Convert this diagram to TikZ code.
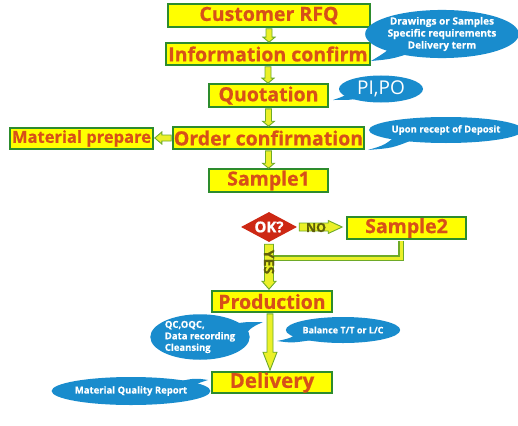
\documentclass[tikz,border=0pt]{standalone}
\usepackage{fontspec}
\setmainfont{Open Sans}[BoldFeatures={FakeBold=0.6}]
\usetikzlibrary{shapes.geometric,calc}
\definecolor{boxfill}{RGB}{255,255,0}
\definecolor{boxline}{RGB}{45,140,45}
\definecolor{txt}{RGB}{215,80,25}
\definecolor{bubcol}{RGB}{25,140,205}
\definecolor{arrfill}{RGB}{235,240,40}
\definecolor{arrline}{RGB}{110,170,40}
\definecolor{okred}{RGB}{205,40,20}
\definecolor{olivetxt}{RGB}{95,95,10}
% block arrows: #1 start, #2 target, #3 shaft half width, #4 head half width, #5 head length
\newcommand\blkdown[5]{\path[blk] let \p1=#1, \p2=#2 in
  (\x1-#3pt,\y1) -- (\x1-#3pt,\y2+#5pt) -- (\x1-#4pt,\y2+#5pt) -- (\x1,\y2) --
  (\x1+#4pt,\y2+#5pt) -- (\x1+#3pt,\y2+#5pt) -- (\x1+#3pt,\y1) -- cycle;}
\newcommand\blkleft[5]{\path[blk] let \p1=#1, \p2=#2 in
  (\x1,\y1-#3pt) -- (\x2+#5pt,\y1-#3pt) -- (\x2+#5pt,\y1-#4pt) -- (\x2,\y1) --
  (\x2+#5pt,\y1+#4pt) -- (\x2+#5pt,\y1+#3pt) -- (\x1,\y1+#3pt) -- cycle;}
\newcommand\blkright[5]{\path[blk] let \p1=#1, \p2=#2 in
  (\x1,\y1-#3pt) -- (\x2-#5pt,\y1-#3pt) -- (\x2-#5pt,\y1-#4pt) -- (\x2,\y1) --
  (\x2-#5pt,\y1+#4pt) -- (\x2-#5pt,\y1+#3pt) -- (\x1,\y1+#3pt) -- cycle;}
\begin{document}
\begin{tikzpicture}[x=1pt,y=-1pt,
  stepbox/.style={draw=boxline, line width=1.6pt, fill=boxfill, inner sep=0pt, text=txt,
    font=\fontsize{19.5}{20}\selectfont\bfseries},
  bubble/.style={ellipse, fill=bubcol, inner sep=0pt, text=white,
    font=\fontsize{9.5}{11.5}\selectfont\bfseries, align=center},
  tail/.style={fill=bubcol},
  blk/.style={draw=arrline, fill=arrfill, line width=0.9pt, line join=miter}]
\fill[white] (0,0) rectangle (518,425);
\useasboundingbox (0,0) rectangle (518,425);

% main boxes
\node[stepbox, minimum width=202, minimum height=23] (rfq)   at (269,15.5)  {Customer RFQ};
\node[stepbox, minimum width=204, minimum height=22] (info)  at (268,54)    {Information confirm};
\node[stepbox, minimum width=119, minimum height=23] (quot)  at (268.5,95.5) {Quotation};
\node[stepbox, minimum width=191, minimum height=22] (order) at (268.5,138) {Order confirmation};
\node[stepbox, minimum width=143, minimum height=21, font=\fontsize{16.5}{17}\selectfont\bfseries] (mat) at (81.5,138.5) {Material prepare};
\node[stepbox, minimum width=119, minimum height=23] (s1)    at (268.5,180.5) {Sample1};
\node[diamond, aspect=1.87, fill=okred, minimum width=56, minimum height=30, inner sep=0pt,
      text=white, font=\fontsize{15}{15}\selectfont\bfseries] (ok) at (269,227) {OK?};
\node[stepbox, minimum width=119, minimum height=22] (s2)    at (406.5,228) {Sample2};
\node[stepbox, minimum width=120, minimum height=21] (prod)  at (272,301.5) {Production};
\node[stepbox, minimum width=120, minimum height=21, font=\fontsize{20.5}{21}\selectfont\bfseries] (deliv) at (272,382.5) {Delivery};

% arrows between boxes
\blkdown{($(rfq.south)+(0,1)$)}{(info.north)}{3}{6}{5}
\blkdown{($(info.south)+(0,1)$)}{(quot.north)}{3}{6}{5}
\blkdown{($(quot.south)+(0,1)$)}{(order.north)}{3}{6}{5}
\blkdown{($(order.south)+(0,1)$)}{(s1.north)}{3}{6}{5}
\blkleft{($(order.west)+(-1,0)$)}{($(mat.east)+(1,0)$)}{3}{6}{7}
\blkright{($(ok.east)+(2,0)$)}{($(s2.west)+(-4,0)$)}{4}{6.5}{14}
\node[font=\fontsize{12.5}{12}\selectfont\bfseries, text=olivetxt] (no) at (316,227.5) {NO};

% return line from Sample2
\coordinate (join) at (272,258);
\draw[line width=5.5pt, draw=arrline, line join=miter] ($(s2.south)+(-5.5,1)$) |- (join);
\draw[line width=3pt, draw=arrfill, line join=miter] ($(s2.south)+(-5.5,1)$) |- (join);

\blkdown{($(ok.south)+(0,2)$)}{($(prod.north)+(0,-1)$)}{4.5}{7}{8}
\node[rotate=-90, font=\fontsize{14}{14}\selectfont\bfseries, text=olivetxt] (yes) at (269,262) {YES};

\blkdown{($(prod.south)+(-2,1)$)}{($(deliv.north)+(-2,-1)$)}{3}{7}{18}

% callout bubble tails (drawn first, under the bubbles)
\coordinate (t1) at (371,61);
\fill[tail] (396,42) .. controls (386,52) .. (t1) .. controls (392,59) .. (414,52) -- cycle;
\coordinate (t2) at (333,100);
\fill[tail] (352,88) .. controls (345,96) .. (t2) .. controls (350,100) .. (362,98) -- cycle;
\coordinate (t3) at (368,150);
\fill[tail] (398,134) .. controls (385,145) .. (t3) .. controls (392,148) .. (410,141) -- cycle;
\coordinate (t4) at (263,322);
\fill[tail] (232,324) .. controls (245,322) .. (t4) .. controls (250,328) .. (240,342) -- cycle;
\coordinate (t5) at (277,341);
\fill[tail] (302,328) .. controls (292,338) .. (t5) .. controls (292,343) .. (312,340) -- cycle;
\coordinate (t6) at (208,380);
\fill[tail] (176,382) .. controls (195,378) .. (t6) .. controls (195,384) .. (186,396) -- cycle;

% callout bubbles
\node[bubble, minimum width=130, minimum height=44, font=\fontsize{10}{12}\selectfont\bfseries] (b1) at (442,34)
  {Drawings or Samples\\Specific requirements\\Delivery term};
\node[bubble, minimum width=84, minimum height=27, font=\fontsize{19}{20}\selectfont] (b2) at (381,89) {PI,PO};
\node[bubble, minimum width=122, minimum height=26] (b3) at (446,130) {Upon recept of Deposit};
\node[bubble, minimum width=94, minimum height=44, align=left] (b4) at (200,337)
  {QC,OQC,\\Data recording\\Cleansing};
\node[bubble, minimum width=106, minimum height=26, font=\fontsize{9}{11}\selectfont\bfseries] (b5) at (343,330) {Balance T/T or L/C};
\node[bubble, minimum width=122, minimum height=28] (b6) at (131,391) {Material Quality Report};
\end{tikzpicture}
\end{document}
